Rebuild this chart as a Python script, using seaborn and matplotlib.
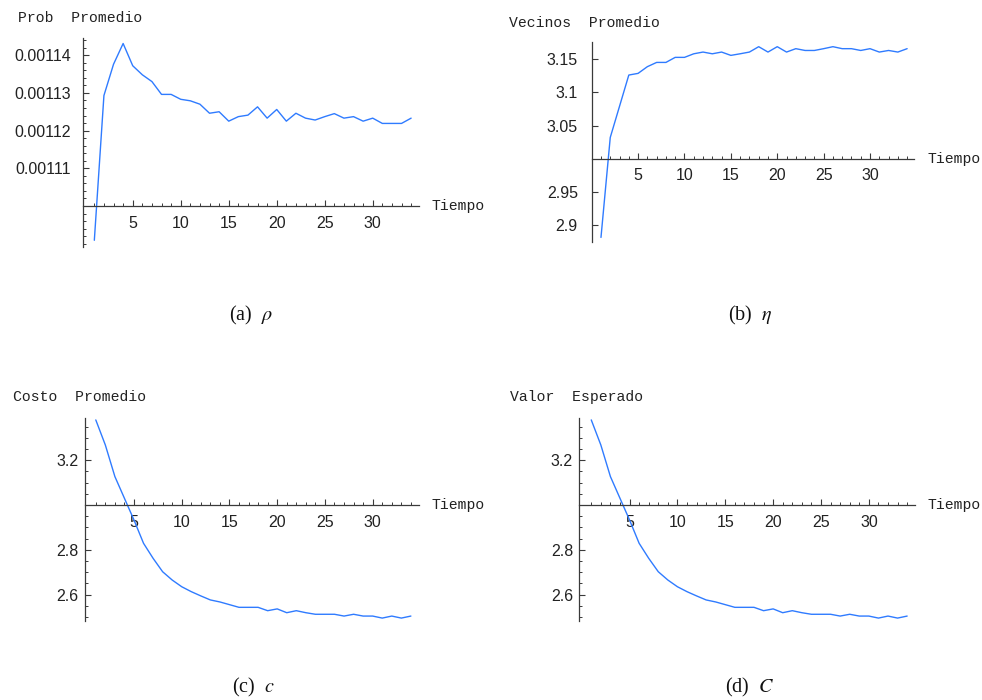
import matplotlib
matplotlib.use("Agg")
import matplotlib.pyplot as plt
import seaborn as sns
from matplotlib.ticker import FixedLocator, MultipleLocator, NullLocator

# ---- data -----------------------------------------------------------------
tiempo = list(range(1, 35))

prob_promedio = [
    0.0010909, 0.0011293, 0.0011376, 0.0011431, 0.0011372, 0.0011348,
    0.0011330, 0.0011296, 0.0011296, 0.0011283, 0.0011279, 0.0011270,
    0.0011246, 0.0011250, 0.0011225, 0.0011237, 0.0011241, 0.0011263,
    0.0011233, 0.0011256, 0.0011225, 0.0011246, 0.0011233, 0.0011228,
    0.0011237, 0.0011245, 0.0011233, 0.0011237, 0.0011225, 0.0011233,
    0.0011219, 0.0011219, 0.0011219, 0.0011233,
]

vecinos_promedio = [
    2.8815, 3.0320, 3.0790, 3.1260, 3.1285, 3.1386, 3.1450, 3.1450,
    3.1526, 3.1526, 3.1580, 3.1606, 3.1580, 3.1606, 3.1556, 3.1580,
    3.1606, 3.1687, 3.1606, 3.1687, 3.1606, 3.1657, 3.1630, 3.1630,
    3.1657, 3.1687, 3.1657, 3.1657, 3.1630, 3.1657, 3.1606, 3.1630,
    3.1606, 3.1657,
]

costo_promedio = [
    3.380, 3.268, 3.127, 3.030, 2.933, 2.829, 2.762, 2.702, 2.665,
    2.635, 2.613, 2.594, 2.576, 2.567, 2.555, 2.543, 2.543, 2.543,
    2.528, 2.536, 2.519, 2.528, 2.519, 2.512, 2.512, 2.512, 2.504,
    2.512, 2.504, 2.504, 2.495, 2.504, 2.495, 2.504,
]

valor_esperado = [
    3.380, 3.268, 3.127, 3.030, 2.933, 2.829, 2.762, 2.702, 2.665,
    2.635, 2.613, 2.594, 2.576, 2.567, 2.555, 2.543, 2.543, 2.543,
    2.528, 2.536, 2.519, 2.528, 2.519, 2.512, 2.512, 2.512, 2.504,
    2.512, 2.504, 2.504, 2.495, 2.504, 2.495, 2.504,
]

x_major = [5, 10, 15, 20, 25, 30]
x_labels = ["5", "10", "15", "20", "25", "30"]

prob_ticks = [0.00111, 0.00112, 0.00113, 0.00114]
prob_labels = ["0.00111", "0.00112", "0.00113", "0.00114"]
vec_ticks = [2.9, 2.95, 3.05, 3.1, 3.15]
vec_labels = ["2.9", "2.95", "3.05", "3.1", "3.15"]
costo_ticks = [2.6, 2.8, 3.2]
costo_labels = ["2.6", "2.8", "3.2"]

captions = ["(a)  $\\rho$", "(b)  $\\eta$", "(c)  $c$", "(d)  $C$"]

# ---- style ----------------------------------------------------------------
sns.set_theme(style="white")
plt.rcParams["font.family"] = ["Liberation Sans", "DejaVu Sans"]
plt.rcParams["mathtext.fontset"] = "stix"

LINE = "#2f7bff"
AXIS = "#3a3a3a"
TXT = "#222222"
W, H = 982, 700

fig = plt.figure(figsize=(W / 100, H / 100), dpi=100)
fig.patch.set_facecolor("white")


def add_axes_px(left, top, right, bottom):
    return fig.add_axes([left / W, 1 - bottom / H, (right - left) / W, (bottom - top) / H])


def draw_panel(ax, y, xlim, ylim, origin, yt, ytl, yminor, ylabel, lab_off, ypad):
    sns.lineplot(x=tiempo, y=y, ax=ax, color=LINE, linewidth=1.0, legend=False)
    ax.set_xlim(*xlim)
    ax.set_ylim(*ylim)
    ax.set_xlabel("")
    ax.set_ylabel("")
    ax.set_facecolor("none")
    for s in ("top", "right"):
        ax.spines[s].set_visible(False)
    ax.spines["left"].set_position(("axes", 0))
    ax.spines["bottom"].set_position(("data", origin))
    for s in ("left", "bottom"):
        ax.spines[s].set_color(AXIS)
        ax.spines[s].set_linewidth(0.9)

    ax.xaxis.set_major_locator(FixedLocator(x_major))
    ax.set_xticklabels(x_labels)
    ax.xaxis.set_minor_locator(FixedLocator([v for v in tiempo if v % 5]))
    ax.yaxis.set_major_locator(FixedLocator(yt))
    ax.set_yticklabels(ytl)
    if yminor:
        ax.yaxis.set_minor_locator(MultipleLocator(yminor))
    else:
        ax.yaxis.set_minor_locator(NullLocator())

    ax.tick_params(which="both", bottom=True, left=True, top=False, right=False)
    ax.tick_params(which="major", direction="in", length=4, width=0.8,
                   color=AXIS, labelcolor=TXT, labelsize=11.5)
    ax.tick_params(which="minor", direction="in", length=2.2, width=0.7, color=AXIS)
    ax.tick_params(axis="x", which="major", pad=7)
    ax.tick_params(axis="y", which="major", pad=ypad)

    ax.annotate("Tiempo", xy=(1, origin), xycoords=("axes fraction", "data"),
                xytext=(13, 0), textcoords="offset pixels", ha="left", va="center",
                fontfamily="Liberation Mono", fontsize=10.6, color=TXT)
    ax.annotate(ylabel, xy=(0, 1), xycoords="axes fraction",
                xytext=lab_off, textcoords="offset pixels", ha="left", va="center",
                fontfamily="Liberation Mono", fontsize=10.6, color=TXT)


ax_a = add_axes_px(83, 38.3, 419, 246.7)
draw_panel(ax_a, prob_promedio, (-0.18, 34.82), (0.0010892, 0.00114448), 0.0011,
           prob_ticks, prob_labels, 2e-6, "Prob  Promedio", (-65, 20), 8.6)

ax_b = add_axes_px(591.7, 41.7, 914, 242)
draw_panel(ax_b, vecinos_promedio, (0.0, 34.74), (2.8746, 3.1762), 3.0,
           vec_ticks, vec_labels, None, "Vecinos  Promedio", (-83, 19), 10.0)

ax_c = add_axes_px(85, 418, 419, 620.7)
draw_panel(ax_c, costo_promedio, (-0.13, 34.85), (2.4833, 3.3886), 3.0,
           costo_ticks, costo_labels, 0.05, "Costo  Promedio", (-72, 21), 4.5)

ax_d = add_axes_px(579.3, 418.3, 915, 620.7)
draw_panel(ax_d, valor_esperado, (-0.25, 34.82), (2.4833, 3.3872), 3.0,
           costo_ticks, costo_labels, 0.05, "Valor  Esperado", (-69, 21), 4.5)

# sub-figure captions
cap_pos = [(251, 315), (750, 315), (253, 687), (750, 687)]
for (cx, cy), txt in zip(cap_pos, captions):
    fig.text(cx / W, 1 - cy / H, txt, ha="center", va="center",
             fontfamily="Liberation Serif", fontsize=14.5, color="#111111")

fig.savefig("out.png", dpi=100, facecolor="white")
